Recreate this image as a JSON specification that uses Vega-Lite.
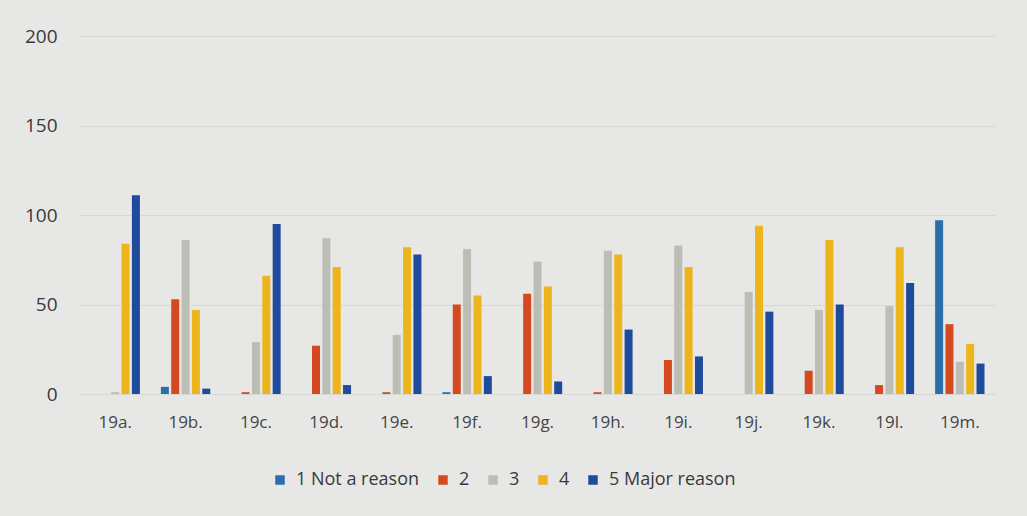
{
  "$schema": "https://vega.github.io/schema/vega-lite/v6.json",
  "width": 915,
  "height": 358,
  "autosize": {"type": "none"},
  "padding": {"left": 80, "top": 36, "right": 32, "bottom": 122},
  "background": "#e7e8e6",
  "data": {
    "values": [
      {"q": "19a.", "level": "1 Not a reason", "n": 0},
      {"q": "19a.", "level": "2", "n": 0},
      {"q": "19a.", "level": "3", "n": 1},
      {"q": "19a.", "level": "4", "n": 84},
      {"q": "19a.", "level": "5 Major reason", "n": 111},
      {"q": "19b.", "level": "1 Not a reason", "n": 4},
      {"q": "19b.", "level": "2", "n": 53},
      {"q": "19b.", "level": "3", "n": 86},
      {"q": "19b.", "level": "4", "n": 47},
      {"q": "19b.", "level": "5 Major reason", "n": 3},
      {"q": "19c.", "level": "1 Not a reason", "n": 0},
      {"q": "19c.", "level": "2", "n": 1},
      {"q": "19c.", "level": "3", "n": 29},
      {"q": "19c.", "level": "4", "n": 66},
      {"q": "19c.", "level": "5 Major reason", "n": 95},
      {"q": "19d.", "level": "1 Not a reason", "n": 0},
      {"q": "19d.", "level": "2", "n": 27},
      {"q": "19d.", "level": "3", "n": 87},
      {"q": "19d.", "level": "4", "n": 71},
      {"q": "19d.", "level": "5 Major reason", "n": 5},
      {"q": "19e.", "level": "1 Not a reason", "n": 0},
      {"q": "19e.", "level": "2", "n": 1},
      {"q": "19e.", "level": "3", "n": 33},
      {"q": "19e.", "level": "4", "n": 82},
      {"q": "19e.", "level": "5 Major reason", "n": 78},
      {"q": "19f.", "level": "1 Not a reason", "n": 1},
      {"q": "19f.", "level": "2", "n": 50},
      {"q": "19f.", "level": "3", "n": 81},
      {"q": "19f.", "level": "4", "n": 55},
      {"q": "19f.", "level": "5 Major reason", "n": 10},
      {"q": "19g.", "level": "1 Not a reason", "n": 0},
      {"q": "19g.", "level": "2", "n": 56},
      {"q": "19g.", "level": "3", "n": 74},
      {"q": "19g.", "level": "4", "n": 60},
      {"q": "19g.", "level": "5 Major reason", "n": 7},
      {"q": "19h.", "level": "1 Not a reason", "n": 0},
      {"q": "19h.", "level": "2", "n": 1},
      {"q": "19h.", "level": "3", "n": 80},
      {"q": "19h.", "level": "4", "n": 78},
      {"q": "19h.", "level": "5 Major reason", "n": 36},
      {"q": "19i.", "level": "1 Not a reason", "n": 0},
      {"q": "19i.", "level": "2", "n": 19},
      {"q": "19i.", "level": "3", "n": 83},
      {"q": "19i.", "level": "4", "n": 71},
      {"q": "19i.", "level": "5 Major reason", "n": 21},
      {"q": "19j.", "level": "1 Not a reason", "n": 0},
      {"q": "19j.", "level": "2", "n": 0},
      {"q": "19j.", "level": "3", "n": 57},
      {"q": "19j.", "level": "4", "n": 94},
      {"q": "19j.", "level": "5 Major reason", "n": 46},
      {"q": "19k.", "level": "1 Not a reason", "n": 0},
      {"q": "19k.", "level": "2", "n": 13},
      {"q": "19k.", "level": "3", "n": 47},
      {"q": "19k.", "level": "4", "n": 86},
      {"q": "19k.", "level": "5 Major reason", "n": 50},
      {"q": "19l.", "level": "1 Not a reason", "n": 0},
      {"q": "19l.", "level": "2", "n": 5},
      {"q": "19l.", "level": "3", "n": 49},
      {"q": "19l.", "level": "4", "n": 82},
      {"q": "19l.", "level": "5 Major reason", "n": 62},
      {"q": "19m.", "level": "1 Not a reason", "n": 97},
      {"q": "19m.", "level": "2", "n": 39},
      {"q": "19m.", "level": "3", "n": 18},
      {"q": "19m.", "level": "4", "n": 28},
      {"q": "19m.", "level": "5 Major reason", "n": 17}
    ]
  },
  "mark": {"type": "bar", "width": 8},
  "encoding": {
    "x": {
      "field": "q",
      "type": "nominal",
      "sort": null,
      "scale": {"paddingInner": 0, "paddingOuter": 0},
      "axis": {
        "title": null,
        "labelAngle": 0,
        "domain": false,
        "ticks": false,
        "labelPadding": 20,
        "labelFont": "Open Sans",
        "labelFontSize": 17,
        "labelColor": "#454545"
      }
    },
    "xOffset": {
      "field": "level",
      "type": "nominal",
      "scale": {"paddingInner": 0.2, "paddingOuter": 1.5}
    },
    "y": {
      "field": "n",
      "type": "quantitative",
      "scale": {"domain": [0, 200]},
      "axis": {
        "title": null,
        "values": [0, 50, 100, 150, 200],
        "domain": false,
        "ticks": false,
        "labelPadding": 23,
        "labelFont": "Open Sans",
        "labelFontSize": 19,
        "labelColor": "#3a3a3a",
        "gridColor": "#d6d8d5",
        "gridWidth": 1
      }
    },
    "color": {
      "field": "level",
      "type": "nominal",
      "scale": {
        "domain": ["1 Not a reason", "2", "3", "4", "5 Major reason"],
        "range": ["#2c6dab", "#d4491f", "#bcbdb5", "#eeb41b", "#1e4b9b"]
      },
      "legend": {
        "title": null,
        "orient": "none",
        "direction": "horizontal",
        "legendX": 191,
        "legendY": 435,
        "symbolType": "square",
        "symbolSize": 90,
        "symbolStrokeWidth": 0,
        "labelOffset": 7,
        "columnPadding": 14,
        "labelFont": "Open Sans",
        "labelFontSize": 18,
        "labelColor": "#3a3a3a"
      }
    }
  },
  "config": {"view": {"stroke": null}}
}
